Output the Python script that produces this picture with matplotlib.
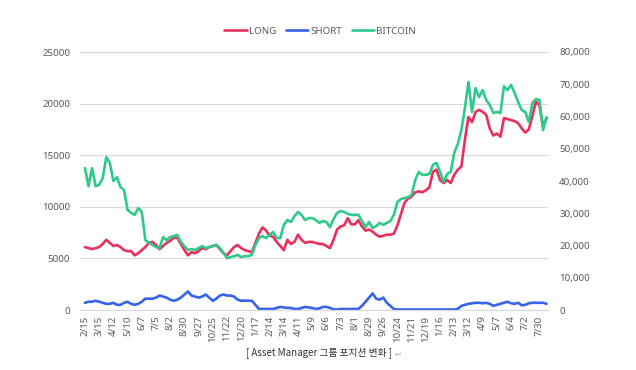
import numpy as np
import matplotlib
matplotlib.use('Agg')
import matplotlib.pyplot as plt

# weekly positions
TICK_LABELS = ['2/15', '3/15', '4/12', '5/10', '6/7', '7/5', '8/2', '8/30', '9/27',
               '10/25', '11/22', '12/20', '1/17', '2/14', '3/14', '4/11', '5/9',
               '6/6', '7/3', '8/1', '8/29', '9/26', '10/24', '11/21', '12/19',
               '1/16', '2/13', '3/12', '4/9', '5/7', '6/4', '7/2', '7/30']

LONG = [6100, 6000, 5900, 6000, 6100, 6400, 6800, 6500, 6200, 6300,
        6100, 5800, 5700, 5700, 5300, 5500, 5800, 6100, 6500, 6600,
        6300, 5900, 6200, 6500, 6700, 7000, 7000, 6400, 5800, 5300,
        5600, 5500, 5700, 6000, 5900, 6100, 6200, 6300, 5900, 5500,
        5300, 5700, 6100, 6300, 6000, 5800, 5700, 5600, 6500, 7400,
        8000, 7700, 7200, 7100, 6600, 6200, 5800, 6800, 6400, 6600,
        7300, 6800, 6500, 6600, 6600, 6500, 6400, 6400, 6200, 6000,
        6800, 7800, 8100, 8200, 8900, 8300, 8300, 8700, 8100, 7700,
        7800, 7600, 7300, 7100, 7200, 7300, 7300, 7400, 8200, 9300,
        10400, 10800, 11000, 11400, 11500, 11400, 11600, 11900, 13400, 13600,
        12600, 12300, 12600, 12300, 13100, 13600, 13900, 16500, 18700, 18200,
        19200, 19400, 19200, 18900, 17600, 16900, 17100, 16800, 18600, 18500,
        18400, 18300, 18100, 17600, 17200, 17500, 18800, 20200, 19800, 17800,
        18600]

SHORT = [700, 800, 800, 900, 800, 700, 600, 600, 700, 500,
         500, 700, 800, 600, 500, 600, 800, 1100, 1100, 1100,
         1200, 1400, 1300, 1200, 1000, 900, 1000, 1200, 1500, 1800,
         1400, 1300, 1200, 1300, 1500, 1200, 900, 1100, 1400, 1500,
         1400, 1400, 1300, 1000, 900, 900, 900, 900, 500, 100,
         100, 100, 100, 100, 200, 300, 250, 200, 200, 100,
         100, 200, 300, 250, 200, 100, 150, 300, 300, 200,
         50, 50, 100, 100, 100, 100, 100, 100, 400, 800,
         1200, 1600, 1100, 1000, 1200, 700, 400, 100, 50, 50,
         50, 50, 50, 50, 50, 50, 50, 50, 50, 50,
         50, 50, 50, 50, 50, 100, 400, 500, 600, 650,
         700, 700, 650, 700, 600, 400, 500, 600, 700, 800,
         650, 600, 700, 450, 500, 650, 700, 700, 700, 700,
         600]

BITCOIN = [44000, 38400, 44000, 38400, 38800, 40900, 47400, 45600, 40000, 41200,
           38100, 37200, 31000, 30100, 29500, 31600, 30400, 21700, 20800, 20200,
           19500, 19200, 22600, 21700, 22600, 22900, 23300, 21100, 19800, 18600,
           18900, 18600, 19200, 19800, 19200, 19500, 19800, 20200, 19200, 17700,
           16100, 16400, 16700, 17100, 16400, 16700, 16700, 17100, 20200, 22300,
           22900, 22300, 23300, 24200, 22300, 22300, 26400, 27900, 27300, 29100,
           30400, 29500, 27900, 28500, 28500, 27900, 27000, 27600, 27300, 25700,
           28200, 30100, 30700, 30400, 29800, 29500, 29500, 29500, 27600, 25700,
           27300, 25400, 26000, 27000, 26400, 27000, 27600, 29500, 33500, 34400,
           34700, 35000, 35700, 40300, 42800, 41900, 41900, 42200, 45000, 45600,
           42800, 39700, 42200, 42800, 48700, 51500, 55800, 62600, 70700, 61400,
           68800, 66000, 68200, 65100, 63600, 61100, 61400, 61100, 69400, 68200,
           69800, 67300, 64500, 62000, 61400, 58300, 64200, 65400, 65100, 55800,
           59800]

CAPTION = '[ Asset Manager 그룹 포지션 변화 ]'

RED = '#e92f5b'
BLUE = '#3563e9'
GREEN = '#2fc98b'
TEXT = '#595959'


def main():
    plt.rcParams['font.family'] = ['Noto Sans', 'Noto Sans CJK KR', 'DejaVu Sans']
    fig = plt.figure(figsize=(6.36, 3.70), dpi=100)
    ax = fig.add_axes([80 / 636, 60 / 370, 468 / 636, 258 / 370])
    ax2 = ax.twinx()

    x = np.arange(len(LONG))
    l1, = ax.plot(x, LONG, color=RED, lw=1.9, label='LONG', solid_capstyle='round')
    l2, = ax.plot(x, SHORT, color=BLUE, lw=1.9, label='SHORT', solid_capstyle='round')
    l3, = ax2.plot(x, BITCOIN, color=GREEN, lw=1.9, label='BITCOIN', solid_capstyle='round')

    ax.set_xlim(-1.4, len(LONG) - 0.6)
    ax.set_ylim(0, 25000)
    ax2.set_ylim(0, 80000)
    ax.set_yticks(np.arange(0, 25001, 5000))
    ax2.set_yticks(np.arange(0, 80001, 10000))
    ax2.set_yticklabels([f'{v:,}' for v in range(0, 80001, 10000)])

    ax.set_xticks(np.arange(0, len(LONG), 4))
    ax.set_xticklabels(TICK_LABELS, rotation=90)

    ax.grid(axis='y', color='#d9d9d9', lw=0.8)
    ax.set_axisbelow(True)
    for a in (ax, ax2):
        for side in ('top', 'left', 'right'):
            a.spines[side].set_visible(False)
        a.spines['bottom'].set_color('#d9d9d9')
        a.tick_params(length=0, labelsize=7, labelcolor=TEXT)
    ax.tick_params(axis='y', pad=7)
    ax.tick_params(axis='x', pad=4)
    ax2.tick_params(axis='y', pad=8)

    fig.legend(handles=[l1, l2, l3], loc='center', bbox_to_anchor=(320 / 636, 1 - 31 / 370),
               ncol=3, frameon=False, fontsize=7, labelcolor=TEXT, handlelength=2.3,
               handletextpad=0.2, columnspacing=1.0)

    fig.text(392 / 636, 1 - 353 / 370, CAPTION, ha='right', va='center',
             fontsize=7, color='#333333', family=['Noto Sans CJK KR', 'DejaVu Sans'])
    fig.text(395 / 636, 1 - 354 / 370, '↵', ha='left', va='center',
             fontsize=6, color='#8fb4e0', family=['DejaVu Sans'])

    fig.savefig('out.png', dpi=100)


if __name__ == '__main__':
    main()
